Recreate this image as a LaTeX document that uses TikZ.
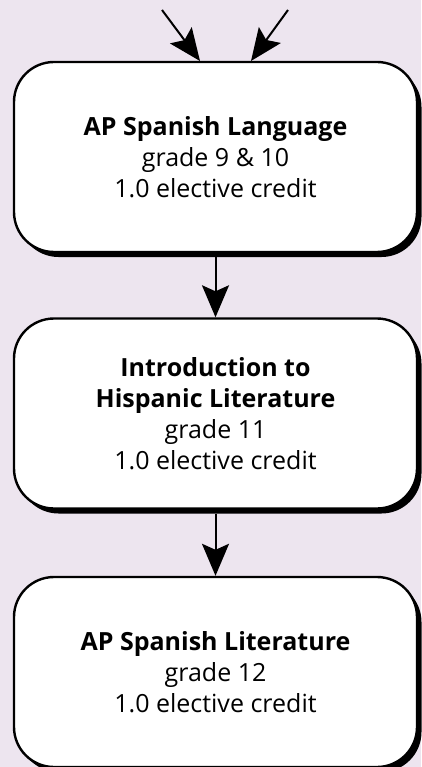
\documentclass[tikz,border=0pt]{standalone}
\usepackage{fontspec}
\setmainfont{Open Sans}
\usetikzlibrary{arrows.meta,shadows}
\definecolor{bgcol}{RGB}{237,229,239}
\tikzset{
  course/.style={draw=black, fill=white, line width=2.4pt, rounded corners=40pt,
    minimum width=403pt, minimum height=190pt, align=center, inner sep=0pt,
    font=\fontsize{25}{31}\selectfont,
    drop shadow={shadow xshift=4.5pt, shadow yshift=-5pt, fill=black, opacity=1}},
  flow/.style={line width=2pt, -{Stealth[length=32pt, width=27pt, inset=6pt]}}
}
\begin{document}
\begin{tikzpicture}[x=1pt,y=-1pt]
\fill[bgcol] (0,0) rectangle (421,767);
\useasboundingbox (0,0) rectangle (421,767);
\node[course] (b1) at (215.5,157) {\textbf{AP Spanish Language}\\grade 9 \& 10\\1.0 elective credit};
\node[course] (b2) at (215.5,413.5) {\textbf{Introduction to}\\\textbf{Hispanic Literature}\\grade 11\\1.0 elective credit};
\node[course] (b3) at (215.5,672) {\textbf{AP Spanish Literature}\\grade 12\\1.0 elective credit};
\coordinate (s1) at (162,10);
\coordinate (s2) at (288,10);
\coordinate (e1) at (200,61);
\coordinate (e2) at (251,61);
\draw[flow] (s1) -- (e1);
\draw[flow] (s2) -- (e2);
\draw[flow] (b1.south) ++(0,4) -- (b2.north);
\draw[flow] (b2.south) ++(0,4) -- (b3.north);
\end{tikzpicture}
\end{document}
